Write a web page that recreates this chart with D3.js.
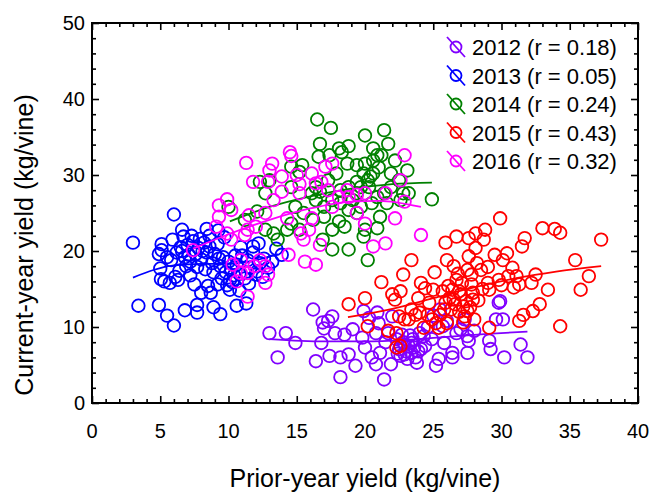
<!DOCTYPE html>
<html>
<head>
<meta charset="utf-8">
<script src="https://cdn.jsdelivr.net/npm/d3@7"></script>
<style>
  body { margin: 0; background: #fff; }
  svg { font-family: "Liberation Sans", Arial, sans-serif; }
</style>
</head>
<body>
<div id="chart"></div>
<script>
"use strict";

// x ticks / y ticks
const xTicks = [0, 5, 10, 15, 20, 25, 30, 35, 40];
const yTicks = [0, 10, 20, 30, 40, 50];

const years = ["2012", "2013", "2014", "2015", "2016"];
const rValues = ["0.18", "0.05", "0.24", "0.43", "0.32"];
const colors = ["#8000ff", "#0000ff", "#008000", "#ff0000", "#ff00ff"];

// [prior-year, current-year] in kg/vine
const pts2012 = [
  [13.0,9.2],[14.2,9.2],[13.6,6.0],[14.9,7.9],[16.2,12.3],[16.4,5.5],[16.9,10.6],[17.3,10.8],
  [17.6,11.4],[16.8,7.9],[17.4,6.2],[17.8,9.2],[18.2,6.0],[18.2,3.4],[18.8,6.4],[19.3,4.9],
  [19.1,9.7],[19.9,12.1],[20.0,7.3],[20.3,11.2],[20.8,9.2],[20.8,5.1],[20.9,11.9],[21.4,3.1],
  [21.1,6.6],[21.7,9.2],[21.9,5.1],[22.0,11.4],[22.3,8.4],[22.5,7.1],[22.6,6.2],[22.9,7.7],
  [23.2,7.5],[23.4,6.6],[23.5,8.4],[23.7,6.0],[23.8,5.3],[24.0,9.2],[24.1,7.1],[24.4,7.5],
  [24.9,8.4],[25.2,4.9],[25.4,5.8],[25.5,12.3],[25.7,10.1],[25.8,7.9],[26.4,6.6],[26.4,6.0],
  [26.7,9.2],[27.0,9.7],[27.3,11.0],[27.5,8.8],[27.5,6.6],[27.6,8.2],[29.1,8.2],[29.2,7.1],
  [29.6,11.0],[29.8,13.2],[29.9,13.4],[30.1,11.0],[30.2,6.0],[31.4,7.7],[31.9,6.0],
  [22.8,8.0],[23.0,6.8],[23.3,8.9],[23.6,7.3],[22.7,9.0],[23.9,6.8],[22.4,6.5],[23.1,5.8],
  [24.3,8.8],[21.5,8.0],[21.0,10.5],[19.8,8.6],[18.5,9.0],[20.5,6.0],[24.6,10.0],[26.0,10.8],
  [25.0,11.5],[28.0,9.5],[17.0,9.8],[23.4,7.9],[22.9,6.4]
];
const pts2013 = [
  [3.0,21.1],[6.0,24.8],[6.6,22.8],[3.4,12.8],[4.9,12.9],[5.5,11.5],[6.0,10.2],[6.8,12.2],
  [7.7,12.9],[7.7,11.9],[8.9,12.6],[9.4,11.7],[10.6,12.8],[8.0,14.5],[8.5,15.4],[5.1,20.9],
  [5.1,20.1],[4.9,19.6],[5.0,17.7],[5.05,16.3],[5.7,15.8],[6.3,16.2],[7.2,16.8],[8.4,22.9],
  [9.25,22.7],[10.1,16.2],[10.1,14.9],[11.3,13.1],[12.1,17.3],[12.5,16.6],[13.5,20.3],[13.9,19.5],
  [6.2,19.8],[6.5,20.5],[6.8,19.2],[7.0,20.8],[7.2,18.6],[7.4,21.3],[7.6,19.6],[7.8,20.4],
  [8.0,18.9],[8.2,21.1],[8.4,19.8],[8.6,20.6],[8.8,18.4],[9.0,19.6],[9.2,20.9],[9.4,18.0],
  [9.6,19.2],[9.8,17.2],[10.0,18.6],[10.2,17.6],[10.4,16.8],[10.6,18.2],[10.8,17.0],[11.0,19.4],
  [11.2,16.4],[11.4,18.8],[11.6,17.8],[11.8,19.8],[12.0,16.9],[12.3,18.4],[12.6,19.0],[12.9,17.8],
  [9.5,16.4],[9.9,15.5],[10.3,15.9],[8.9,17.2],[8.3,17.6],[7.7,17.9],[6.9,18.0],[6.4,17.4],
  [5.8,18.8],[5.5,19.2],[5.3,16.0],[5.9,21.5],[6.7,21.9],[7.3,22.0],[8.6,22.0],[7.9,21.6],
  [9.7,21.8],[10.9,20.5],[11.8,20.6],[12.2,21.0],[13.2,18.6],[6.1,16.6],[7.5,15.6],[8.7,14.5],
  [9.2,15.6],[10.8,14.8],[11.5,15.7],[6.6,20.0],[7.1,19.5],[8.1,20.0],[9.3,19.0],[10.5,19.4]
];
const pts2014 = [
  [16.5,37.3],[17.5,36.2],[16.7,34.1],[16.6,32.4],[17.4,32.6],[18.1,33.5],[18.8,33.8],[18.3,33.0],
  [20.0,35.2],[21.4,35.9],[21.7,34.1],[20.6,33.5],[20.9,32.6],[21.2,32.6],[20.0,31.5],[19.4,31.3],
  [18.7,31.5],[20.6,31.9],[19.9,30.2],[20.2,29.3],[20.3,28.4],[19.7,28.4],[19.4,29.1],[23.1,30.6],
  [23.2,27.6],[22.8,27.6],[24.9,26.8],[21.9,28.4],[21.4,27.6],[20.9,27.1],[20.5,26.3],[21.1,24.5],
  [20.9,23.0],[20.0,22.8],[19.9,21.9],[20.2,18.8],[18.8,20.2],[17.6,20.2],[16.9,21.5],[17.6,22.8],
  [18.5,23.2],[18.1,23.9],[19.4,25.0],[18.8,25.4],[18.2,26.3],[17.6,26.7],[17.0,25.8],[16.4,26.7],
  [16.7,27.8],[16.1,27.6],[16.2,24.1],[15.5,25.0],[14.9,25.8],[14.6,28.4],[14.6,31.1],[15.4,31.3],
  [15.2,30.4],[13.0,29.3],[12.3,29.1],[12.7,27.6],[12.1,25.2],[11.2,24.1],[10.0,25.8],[12.7,22.8],
  [13.3,22.3],[13.6,21.5],[14.3,22.8],[14.6,23.6],[15.2,22.8],[17.0,24.5],[17.3,29.3],[16.4,28.4],
  [17.9,30.2],[20.6,30.2],[22.2,31.9],[22.5,29.3],[21.9,30.2],[22.6,26.7],[21.6,26.3],[19.7,25.8],
  [19.1,26.7],[18.2,28.0],[18.8,28.4],[19.4,27.6],[20.4,29.8],[21.0,31.0]
];
const pts2015 = [
  [18.8,13.0],[20.0,13.8],[21.2,15.9],[20.2,10.1],[22.0,14.3],[22.2,13.6],[22.6,14.7],[22.8,16.9],
  [23.4,18.8],[21.7,9.5],[22.3,9.2],[22.5,11.4],[22.6,7.5],[22.3,7.3],[22.9,11.0],[23.2,11.0],
  [23.4,12.3],[23.7,11.6],[24.0,11.9],[24.1,15.8],[24.4,15.1],[24.3,9.9],[24.6,11.6],[24.9,11.0],
  [25.1,17.2],[25.0,14.9],[25.4,9.9],[25.5,11.6],[25.8,12.3],[25.7,14.7],[26.0,18.8],[25.9,21.1],
  [26.1,15.4],[26.2,13.8],[26.4,14.9],[26.5,13.6],[26.7,21.9],[26.5,18.0],[26.7,16.2],[26.9,14.7],
  [27.0,14.3],[27.2,12.7],[27.3,11.4],[27.5,12.1],[27.6,21.7],[27.6,19.3],[27.8,16.9],[27.8,15.6],
  [27.9,14.5],[27.9,13.6],[28.1,20.4],[28.1,22.3],[28.2,18.4],[28.5,17.5],[28.7,21.5],[28.8,22.8],
  [29.0,17.9],[29.0,15.8],[29.1,14.9],[29.1,9.9],[29.8,16.2],[29.9,24.3],[30.1,18.8],[30.4,19.7],
  [30.5,16.7],[30.8,17.8],[31.1,16.7],[31.3,15.6],[31.3,10.8],[31.6,11.6],[31.5,20.6],[31.7,21.7],
  [32.2,15.8],[32.3,12.1],[32.5,16.9],[32.8,13.0],[33.0,23.0],[33.4,14.9],[33.9,22.9],[34.3,22.4],
  [34.3,10.1],[35.4,18.8],[35.8,14.9],[36.4,16.7],[37.3,21.5],
  [26.6,13.0],[27.1,15.8],[26.9,12.0],[27.4,13.4],[27.7,12.6],[26.3,12.3],[25.9,13.2],[28.3,13.5],
  [28.6,15.0],[27.5,17.5],[26.8,17.0],[28.0,11.0],[27.2,10.6],[26.0,10.5],[25.2,10.5],[24.7,13.2],
  [23.9,13.8],[30.0,15.5],[29.5,19.5],[30.9,15.2]
];
const pts2016 = [
  [7.4,20.1],[9.3,24.5],[9.9,26.8],[9.3,26.0],[10.2,25.4],[9.9,22.3],[9.1,23.2],[10.2,21.5],
  [10.3,18.2],[10.6,16.0],[10.9,18.8],[11.4,14.0],[11.3,31.6],[11.5,24.7],[11.4,22.8],[12.0,23.2],
  [11.8,29.1],[11.9,18.0],[12.7,18.0],[12.7,15.8],[12.9,16.9],[12.9,29.1],[13.0,30.6],[13.2,31.5],
  [12.7,25.0],[13.3,26.7],[13.9,29.8],[13.9,27.8],[14.3,24.3],[14.4,19.5],[14.5,33.0],[14.6,32.5],
  [15.0,30.0],[15.2,27.6],[15.3,22.3],[15.5,21.5],[15.6,18.6],[15.9,22.8],[16.4,18.2],[16.7,20.8],
  [16.1,24.3],[16.1,30.2],[16.4,28.9],[16.8,29.1],[17.1,31.1],[17.6,31.5],[17.6,25.8],[18.1,27.1],
  [18.7,28.0],[19.4,27.4],[19.4,25.0],[20.0,23.6],[20.6,20.6],[21.5,21.0],[21.5,27.6],[22.2,24.3],
  [22.6,29.3],[22.9,32.6],[22.9,26.5],[24.1,22.1],[20.0,27.6],[18.8,27.1],[17.3,28.0],[15.2,28.8],
  [12.3,18.8],[11.4,17.1],[10.9,17.1],[11.2,22.1]
];
const points = [pts2012, pts2013, pts2014, pts2015, pts2016];

// fitted trend lines
const fit2012 = [[13.0,8.4],[17,8.1],[20,8.1],[23,8.3],[26,8.7],[29,9.1],[31.9,9.4]];
const fit2013 = [[3.0,16.5],[4.5,17.5],[6,18.1],[8,18.3],[10,18.3],[12,18.8],[13.6,19.6]];
const fit2014 = [[10.1,23.9],[13,25.8],[16,27.2],[19,28.2],[22,28.8],[24.9,29.0]];
const fit2015 = [[18.75,11.3],[22,12.4],[25,13.8],[28,15.2],[31,16.4],[34,17.3],[37.3,18.0]];
const fit2016 = [[7.4,20.3],[10,22.2],[13,24.1],[16,25.6],[19,26.5],[21,26.6],[24.1,25.8]];
const fits = [fit2012, fit2013, fit2014, fit2015, fit2016];

const width = 650, height = 494;
const plotL = 92, plotR = 638, plotT = 23, plotB = 403;

const svg = d3.select("#chart").append("svg")
    .attr("width", width)
    .attr("height", height);

const x = d3.scaleLinear().domain([0, 40]).range([plotL, plotR]);
const y = d3.scaleLinear().domain([0, 50]).range([plotB, plotT]);

// markers and fits
const line = d3.line().x(d => x(d[0])).y(d => y(d[1])).curve(d3.curveMonotoneX);
years.forEach((yr, i) => {
    const g = svg.append("g");
    g.selectAll("circle")
        .data(points[i])
        .enter()
        .append("circle")
        .attr("cx", d => x(d[0]))
        .attr("cy", d => y(d[1]))
        .attr("r", 6.3)
        .style("fill", "none")
        .style("stroke", colors[i])
        .style("stroke-width", 1.8);
    g.append("path")
        .attr("d", line(fits[i]))
        .style("fill", "none")
        .style("stroke", colors[i])
        .style("stroke-width", 1.8);
});

// axes: ticks inside on all four sides
const axG = svg.append("g");
function tickSet(axisFn, tr, scale, major, minorStep, size, domain) {
    const minor = d3.range(domain[0], domain[1] + 0.001, minorStep).filter(v => !major.includes(v));
    axG.append("g")
        .attr("transform", tr)
        .call(axisFn(scale).tickValues(minor).tickSize(size[0]).tickFormat(""))
        .call(g => g.select(".domain").remove());
    axG.append("g")
        .attr("transform", tr)
        .call(axisFn(scale).tickValues(major).tickSize(size[1]).tickFormat(""))
        .call(g => g.select(".domain").remove());
}
tickSet(d3.axisTop, `translate(0,${plotB})`, x, xTicks, 1, [4, 7], [0, 40]);
tickSet(d3.axisBottom, `translate(0,${plotT})`, x, xTicks, 1, [4, 7], [0, 40]);
tickSet(d3.axisRight, `translate(${plotL},0)`, y, yTicks, 2, [4, 7], [0, 50]);
tickSet(d3.axisLeft, `translate(${plotR},0)`, y, yTicks, 2, [4, 7], [0, 50]);
axG.selectAll("line").style("stroke", "#000").style("stroke-width", 1.6);

svg.append("rect")
    .attr("x", plotL).attr("y", plotT)
    .attr("width", plotR - plotL).attr("height", plotB - plotT)
    .style("fill", "none")
    .style("stroke", "#000")
    .style("stroke-width", 2);

// tick labels
svg.selectAll("text.xl")
    .data(xTicks)
    .enter()
    .append("text")
    .attr("x", d => x(d))
    .attr("y", plotB + 35)
    .attr("text-anchor", "middle")
    .style("font-size", "20px")
    .text(d => d);
svg.selectAll("text.yl")
    .data(yTicks)
    .enter()
    .append("text")
    .attr("x", plotL - 7)
    .attr("y", d => y(d) + 7)
    .attr("text-anchor", "end")
    .style("font-size", "20px")
    .text(d => d);

// axis titles
svg.append("text")
    .attr("x", (plotL + plotR) / 2)
    .attr("y", 487)
    .attr("text-anchor", "middle")
    .style("font-size", "25px")
    .text("Prior-year yield (kg/vine)");
svg.append("text")
    .attr("transform", "translate(33,245) rotate(-90)")
    .attr("text-anchor", "middle")
    .style("font-size", "25px")
    .text("Current-year yield (kg/vine)");

// legend
const legend = svg.append("g").attr("transform", "translate(456,47)");
const rows = legend.selectAll("g")
    .data(years)
    .enter()
    .append("g")
    .attr("transform", (d, i) => `translate(0,${i * 28.5})`);
rows.append("line")
    .attr("x1", -9).attr("y1", -10).attr("x2", 9).attr("y2", 10)
    .style("stroke", (d, i) => colors[i])
    .style("stroke-width", 1.8);
rows.append("circle")
    .attr("r", 5.5)
    .style("fill", "none")
    .style("stroke", (d, i) => colors[i])
    .style("stroke-width", 1.8);
rows.append("text")
    .attr("x", 16)
    .attr("y", 8)
    .style("font-size", "22px")
    .text((d, i) => d + " (r = " + rValues[i] + ")");
</script>
</body>
</html>
